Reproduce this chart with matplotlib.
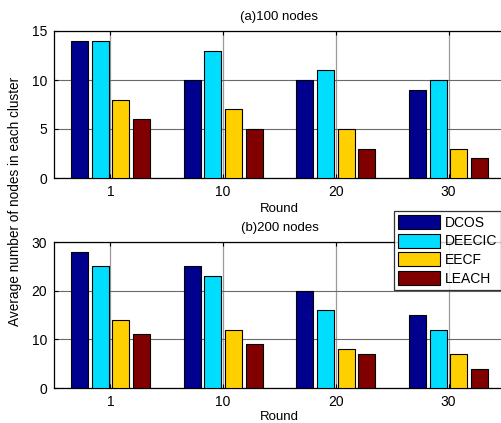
import numpy as np
import matplotlib
matplotlib.use("Agg")
import matplotlib.pyplot as plt

plt.rcParams['font.family'] = ['Liberation Sans', 'DejaVu Sans']

rounds = ['1', '10', '20', '30']
methods = ['DCOS', 'DEECIC', 'EECF', 'LEACH']
colors = ['#00008F', '#00DDFF', '#FFCF00', '#800000']

# (a) 100 nodes
vals_100 = [
    [14, 10, 10, 9],   # DCOS
    [14, 13, 11, 10],  # DEECIC
    [8, 7, 5, 3],      # EECF
    [6, 5, 3, 2],      # LEACH
]
# (b) 200 nodes
vals_200 = [
    [28, 25, 20, 15],
    [25, 23, 16, 12],
    [14, 12, 8, 7],
    [11, 9, 7, 4],
]

W, H = 502, 423
fig = plt.figure(figsize=(W / 100, H / 100), dpi=100)

def px_axes(left, top, right, bottom):
    return fig.add_axes([left / W, 1 - bottom / H, (right - left) / W, (bottom - top) / H])

def draw(ax, vals, ymax, yticks, title, xlpad):
    x = np.arange(1, len(rounds) + 1)
    step = 0.183
    width = 0.15
    for i, (m, c) in enumerate(zip(methods, colors)):
        ax.bar(x + (i - 1.5) * step, vals[i], width, color=c, edgecolor='black',
               linewidth=0.8, label=m, zorder=3)
    ax.set_xlim(0.5, 4.5)
    ax.set_ylim(0, ymax)
    ax.set_xticks(x)
    ax.set_xticklabels(rounds)
    ax.set_yticks(yticks)
    ax.tick_params(direction='in', top=True, right=True, labelsize=10, length=3, pad=5)
    ax.grid(True, axis='x', color='#9a9a9a', linewidth=0.9, zorder=0)
    ax.grid(True, axis='y', color='#6a6a6a', linewidth=0.8, zorder=0)
    ax.set_axisbelow(True)
    for s in ax.spines.values():
        s.set_linewidth(0.9)
    ax.set_title(title, fontsize=9.5, pad=8)
    ax.set_xlabel('Round', fontsize=9.5, labelpad=xlpad)

ax1 = px_axes(54, 31, 505, 178)
draw(ax1, vals_100, 15, [0, 5, 10, 15], '(a)100 nodes', 3)

ax2 = px_axes(54, 242, 505, 388)
draw(ax2, vals_200, 30, [0, 10, 20, 30], '(b)200 nodes', 1.5)

fig.text(15 / W, 1 - 201 / H, 'Average number of nodes in each cluster',
         rotation=90, ha='center', va='center', fontsize=9.8)

leg = ax2.legend(loc='upper left', bbox_to_anchor=(394 / W, 1 - 211 / H),
                 bbox_transform=fig.transFigure, fontsize=10, frameon=True,
                 fancybox=False, edgecolor='black', handlelength=3.0, handleheight=1.15,
                 borderpad=0.3, labelspacing=0.29, handletextpad=0.35, borderaxespad=0)
leg.get_frame().set_linewidth(0.9)

fig.savefig('out.png', dpi=100)
